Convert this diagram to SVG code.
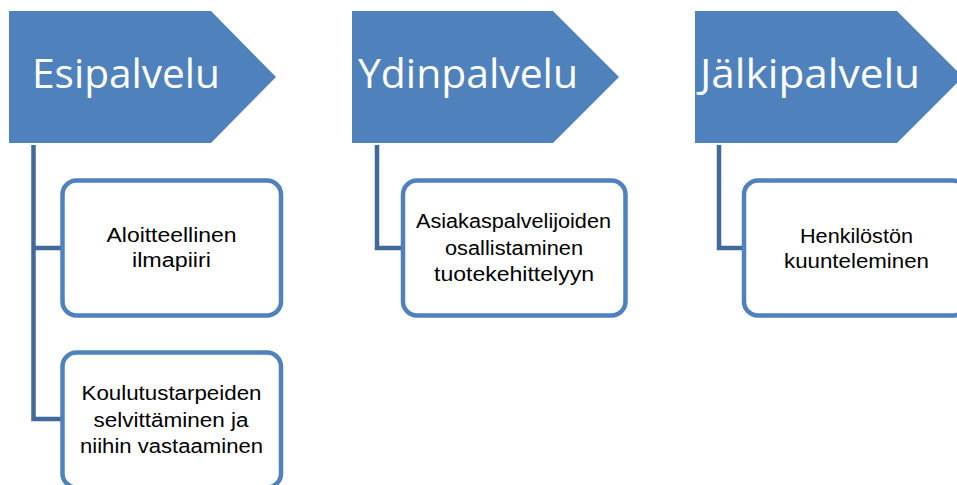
<svg xmlns="http://www.w3.org/2000/svg" width="957" height="485" viewBox="0 0 957 485">
<style>
.head{fill:#4F81BD}
.htxt{font-family:"Open Sans","Liberation Sans",sans-serif;font-size:40px;fill:#FFFFFF}
.box{fill:#FFFFFF;stroke:#4F81BD;stroke-width:4.5}
.btxt{font-family:"Liberation Sans",Arial,sans-serif;font-size:20px;fill:#000000;text-anchor:middle}
.conn{fill:none;stroke:#41699A;stroke-width:4.5}
</style>
<rect width="957" height="485" fill="#FFFFFF"/>
<g id="connectors">
<path class="conn" d="M33.5,145 V419 H62.5 M33.5,248 H62.5"/>
<path class="conn" d="M377,145 V248 H403"/>
<path class="conn" d="M719,145 V248 H744"/>
</g>
<g id="esipalvelu">
<polygon class="head" points="9,11 211,11 276,77 211,143 9,143"/>
<text class="htxt" x="32" y="87.5" textLength="188" lengthAdjust="spacingAndGlyphs">Esipalvelu</text>
</g>
<g id="ydinpalvelu">
<polygon class="head" points="352,11 553,11 619,77 553,143 352,143"/>
<text class="htxt" x="358" y="87.5" textLength="220" lengthAdjust="spacingAndGlyphs">Ydinpalvelu</text>
</g>
<g id="jalkipalvelu">
<polygon class="head" points="695,11 897,11 963,77 897,143 695,143"/>
<text class="htxt" x="700" y="87.5" textLength="220" lengthAdjust="spacingAndGlyphs">Jälkipalvelu</text>
</g>
<g id="aloitteellinen">
<rect class="box" x="62.5" y="180.5" width="218.5" height="135" rx="14"/>
<text class="btxt" x="171.5" y="241.7" textLength="130" lengthAdjust="spacingAndGlyphs">Aloitteellinen</text>
<text class="btxt" x="171.5" y="266.7" textLength="79" lengthAdjust="spacingAndGlyphs">ilmapiiri</text>
</g>
<g id="koulutustarpeiden">
<rect class="box" x="62.5" y="352.5" width="218.5" height="135" rx="14"/>
<text class="btxt" x="171.5" y="400" textLength="180" lengthAdjust="spacingAndGlyphs">Koulutustarpeiden</text>
<text class="btxt" x="171" y="426.5" textLength="155" lengthAdjust="spacingAndGlyphs">selvittäminen ja</text>
<text class="btxt" x="171.5" y="453" textLength="183" lengthAdjust="spacingAndGlyphs">niihin vastaaminen</text>
</g>
<g id="asiakaspalvelijoiden">
<rect class="box" x="403" y="180.5" width="222.5" height="135" rx="14"/>
<text class="btxt" x="513.5" y="228" textLength="195" lengthAdjust="spacingAndGlyphs">Asiakaspalvelijoiden</text>
<text class="btxt" x="514" y="254.5" textLength="138" lengthAdjust="spacingAndGlyphs">osallistaminen</text>
<text class="btxt" x="514" y="280.5" textLength="160" lengthAdjust="spacingAndGlyphs">tuotekehittelyyn</text>
</g>
<g id="henkiloston">
<rect class="box" x="744" y="180.5" width="222.5" height="135" rx="14"/>
<text class="btxt" x="856.5" y="243" textLength="113" lengthAdjust="spacingAndGlyphs">Henkilöstön</text>
<text class="btxt" x="856.5" y="268" textLength="145" lengthAdjust="spacingAndGlyphs">kuunteleminen</text>
</g>
</svg>
